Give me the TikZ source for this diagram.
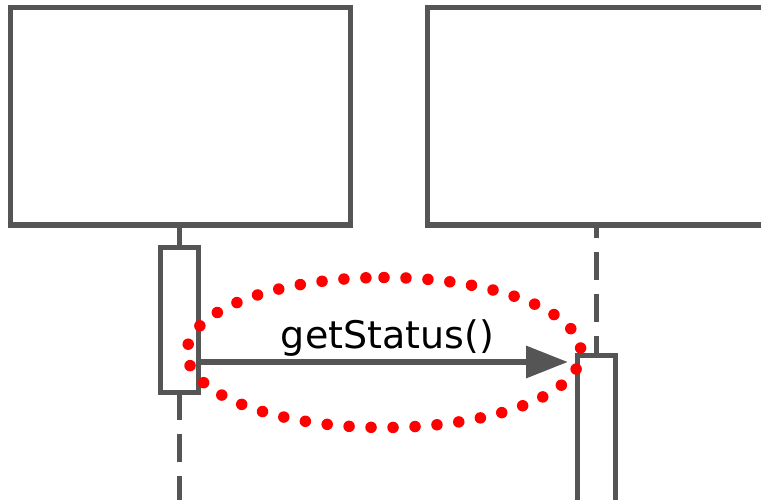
\documentclass[tikz,border=0pt]{standalone}
\usepackage{fontspec}
\setmainfont{DejaVu Sans}
\usetikzlibrary{arrows.meta}
\definecolor{linegray}{HTML}{555555}

\begin{document}
\begin{tikzpicture}[x=1pt, y=-1pt, line width=5pt,
		obj_style/.style={rectangle,draw=linegray,fill=white,inner sep=0pt},
		act_style/.style={rectangle,draw=linegray,fill=white,inner sep=0pt,minimum width=38pt},
		life_style/.style={draw=linegray,dash pattern=on 28pt off 14pt},
		msg_style/.style={draw=linegray,line width=6.5pt,shorten >=6.5pt,-{Triangle[length=42pt,width=31pt]}},
		mark_style/.style={draw=red,line width=11.5pt,line cap=round,dash pattern=on 0pt off 22pt}]

		\useasboundingbox (0,0) rectangle (761,500);
		\clip (0,0) rectangle (761,500);

		\node[obj_style,minimum width=340pt,minimum height=217pt] (obj1) at (180,116.5) {};
		\node[obj_style,minimum width=338pt,minimum height=217pt] (obj2) at (596,116.5) {};
		\coordinate (end1) at (179,510);
		\coordinate (msg) at (0,362);
		\coordinate (mark) at (384,277.5);

		\draw[draw=linegray] (179,225) -- (179,250);
		\draw[life_style] (179,392) -- (end1);
		\draw[life_style,dash phase=18pt] (obj2.south) -- (596,355);

		\node[act_style,minimum height=145pt] (act1) at (179,320) {};
		\node[act_style,minimum height=205pt] (act2) at (596,457.5) {};

		\draw[msg_style] (act1.east |- msg) -- node[anchor=base,yshift=14pt,text=black,font=\fontsize{38}{46}\selectfont] (lbl) {getStatus()} (act2.west |- msg);

		\draw[mark_style] (mark) arc[start angle=-90,end angle=270,x radius=197,y radius=75];

\end{tikzpicture}
\end{document}
